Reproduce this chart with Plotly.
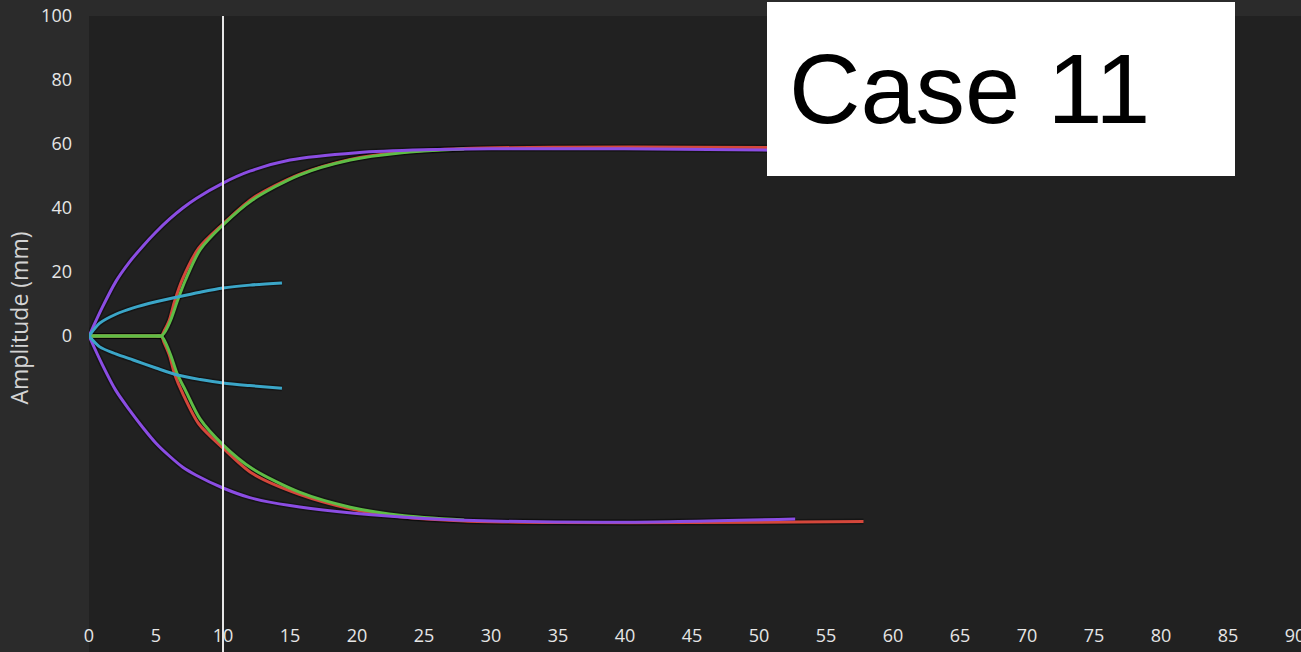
import plotly.graph_objects as go

# ---- data ----
purple_x = [0, 1, 2, 3, 4, 5, 6, 7, 8, 10, 12, 15, 20, 25, 30, 40, 52.7]
purple_upper = [0, 9, 17, 23, 28, 32.5, 36.5, 40, 43, 47.8, 51.5, 55, 57.3, 58.2, 58.5, 58.5, 58.0]
purple_lower = [0, -9, -17, -23, -28.5, -33.5, -37.5, -41, -43.5, -47.5, -50.5, -53, -55.5, -57.0, -57.8, -58.2, -57.2]

red_x = [0, 2.5, 5.0, 5.4, 5.6, 6.0, 6.4, 7.0, 8.2, 10, 12.2, 15.7, 19.5, 23.2, 28, 35, 45, 57.8]
red_upper = [0, 0, 0, 0, 1.5, 5, 11, 18, 27.5, 35, 43, 50.5, 55.2, 57.4, 58.6, 59, 59, 58.8]
red_lower = [0, 0, 0, 0, -2, -6, -12, -18, -27.5, -35, -43, -49.5, -54, -56.5, -57.8, -58.3, -58.3, -58.0]

green_x = [0, 2.5, 5.0, 5.4, 5.7, 6.1, 6.6, 7.2, 8.3, 10, 12.2, 15.7, 19.5, 23.2, 28]
green_upper = [0, 0, 0, 0, 1.5, 5, 11, 17.5, 27, 34.7, 42.5, 50.3, 55, 57.2, 58.4]
green_lower = [0, 0, 0, 0, -2, -6, -12, -17, -26, -34, -41.5, -48.8, -53.5, -56, -57.5]

cyan_x = [0, 0.8, 2, 3.3, 5, 6.6, 8.3, 10, 12, 14.4]
cyan_upper = [0, 4, 6.8, 8.8, 10.7, 12.2, 13.7, 15, 15.9, 16.6]
cyan_lower = [0, -3.4, -5.6, -7.5, -10, -12.2, -13.6, -14.7, -15.5, -16.3]

x_ticks = list(range(0, 91, 5))
y_ticks = [0, 20, 40, 60, 80, 100]
marker_x = 10
case_label = "Case 11"

PURPLE = "#8b4de3"
RED = "#d4473b"
GREEN = "#5fbd46"
CYAN = "#3ba6c8"

fig = go.Figure()

series = [
    (red_x, red_upper, RED), (red_x, red_lower, RED),
    (green_x, green_upper, GREEN), (green_x, green_lower, GREEN),
    (purple_x, purple_upper, PURPLE), (purple_x, purple_lower, PURPLE),
    (cyan_x, cyan_upper, CYAN), (cyan_x, cyan_lower, CYAN),
]
# dark halo under each line
for xs, ys, c in series:
    fig.add_trace(go.Scatter(x=xs, y=ys, mode="lines",
                             line=dict(color="rgba(0,0,0,0.35)", width=6, shape="spline", smoothing=0.8),
                             hoverinfo="skip", showlegend=False))
for xs, ys, c in series:
    fig.add_trace(go.Scatter(x=xs, y=ys, mode="lines",
                             line=dict(color=c, width=3, shape="spline", smoothing=0.8),
                             showlegend=False))

W, H = 1301, 652
L, T, B = 89, 16, 32
plot_h = H - T - B

fig.add_vline(x=marker_x, line=dict(color="#e6e6e6", width=2), layer="above")

# dark area below plot (labels area)
fig.add_shape(type="rect", xref="paper", yref="paper", x0=0, x1=1,
              y0=-(B + 2) / plot_h, y1=0, fillcolor="#212121", line=dict(width=0), layer="below")
# continue the vertical line into the label area
fig.add_shape(type="line", xref="x", yref="paper", x0=marker_x, x1=marker_x,
              y0=-(B + 2) / plot_h, y1=0, line=dict(color="#e6e6e6", width=2), layer="above")

# Case label box
pw = W - L
bx0, bx1, by0, by1 = 767, 1235, 2, 176
fig.add_shape(type="rect", xref="paper", yref="paper",
              x0=(bx0 - L) / pw, x1=(bx1 - L) / pw,
              y0=(H - B - by1) / plot_h, y1=(H - B - by0) / plot_h,
              fillcolor="white", line=dict(width=0), layer="above")
fig.add_annotation(xref="paper", yref="paper", x=(787 - L) / pw, y=(H - B - 88) / plot_h,
                   xanchor="left", yanchor="middle", showarrow=False, text=case_label,
                   font=dict(family="Liberation Sans, Arial", size=99, color="black"))

fig.update_layout(
    width=W, height=H,
    margin=dict(l=L, r=0, t=T, b=B, pad=0, autoexpand=False),
    paper_bgcolor="#2b2b2b", plot_bgcolor="#212121",
    xaxis=dict(range=[0, (W - L) / 13.4], tickvals=x_ticks, showgrid=False, zeroline=False,
               showline=False, ticks="", ticklabelstandoff=3, ticklabeloverflow="allow",
               automargin=False,
               tickfont=dict(family="Open Sans", size=18, color="#e6e6e6")),
    yaxis=dict(range=[(336 - (H - B)) / 3.2, 100], tickvals=y_ticks, showgrid=False, zeroline=False,
               showline=False, ticks="", ticklabelstandoff=16, automargin=False,
               tickfont=dict(family="Open Sans", size=18, color="#e6e6e6"),
               title=dict(text="Amplitude (mm)", standoff=6,
                          font=dict(family="Open Sans", size=23, color="#d4d4d4"))),
)

fig.write_html("out.html")
